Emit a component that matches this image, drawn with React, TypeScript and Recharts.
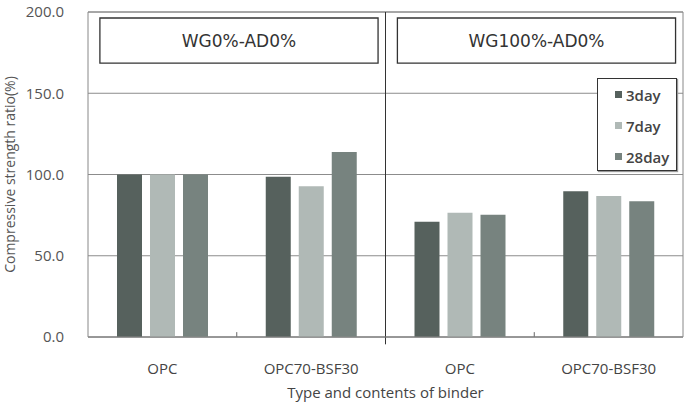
import React from 'react'
import {
  BarChart,
  Bar,
  XAxis,
  YAxis,
  CartesianGrid,
  Legend,
  ReferenceArea,
  ReferenceLine,
} from 'recharts'

// binder types, two panels of two each
const binders = ['OPC', 'OPC70-BSF30', 'OPC', 'OPC70-BSF30']
const panelTitles = ['WG0%-AD0%', 'WG100%-AD0%']

// compressive strength ratio (%) per curing age
const day3 = [100.0, 98.6, 70.9, 89.7]
const day7 = [100.0, 92.8, 76.4, 86.8]
const day28 = [100.0, 113.8, 75.3, 83.5]

const yTicks = [0, 50, 100, 150, 200]

const series = [
  { key: 'd3', name: '3day', values: day3, color: '#56615d' },
  { key: 'd7', name: '7day', values: day7, color: '#b0b9b6' },
  { key: 'd28', name: '28day', values: day28, color: '#77837f' },
]

// slot = category centre on a 0..4 helper axis used for frame / dividers
const data = binders.map((b, i) => ({
  binder: b,
  slot: i + 0.5,
  d3: day3[i],
  d7: day7[i],
  d28: day28[i],
}))

const font = '"Open Sans", "Noto Sans", sans-serif'
const titleFont = '"DejaVu Sans", sans-serif'

function LegendBox() {
  return (
    <div
      style={{
        width: 80,
        height: 93,
        boxSizing: 'border-box',
        border: '1px solid #333',
        boxShadow: '1px 1px 1px #999',
        background: '#fff',
        fontFamily: font,
        fontSize: 15,
        fontWeight: 600,
        color: '#444',
      }}
    >
      {series.map((s) => (
        <div
          key={s.key}
          style={{ display: 'flex', alignItems: 'center', height: 31, paddingLeft: 17 }}
        >
          <span
            style={{ width: 7, height: 7, background: s.color, marginRight: 4, display: 'inline-block' }}
          />
          <span>{s.name}</span>
        </div>
      ))}
    </div>
  )
}

export default function App() {
  return (
    <div style={{ position: 'fixed', left: 0, top: 0, width: 693, height: 402, background: '#fff' }}>
      <BarChart
        width={693}
        height={402}
        data={data}
        margin={{ top: 12, right: 10, bottom: 15, left: 0 }}
        barSize={25}
        barGap={8}
      >
        <CartesianGrid vertical={false} stroke="#8c8c8c" />
        <XAxis
          dataKey="binder"
          height={50}
          axisLine={{ stroke: '#888' }}
          tickLine={false}
          tickSize={0}
          tickMargin={26}
          tick={{ fill: '#444', fontSize: 15, fontFamily: font }}
          interval={0}
          label={{
            value: 'Type and contents of binder',
            position: 'bottom',
            offset: 0,
            fill: '#444',
            fontSize: 15,
            fontFamily: font,
          }}
        />
        <XAxis
          xAxisId="panel"
          dataKey="slot"
          type="number"
          domain={[0, 4]}
          allowDataOverflow
          hide
        />
        <YAxis
          width={88}
          domain={[0, 200]}
          ticks={yTicks}
          axisLine={false}
          tickLine={false}
          tickSize={0}
          tickMargin={24}
          tickFormatter={(v: number) => v.toFixed(1)}
          tick={{ fill: '#555', fontSize: 15, fontFamily: font }}
          label={{
            value: 'Compressive strength ratio(%)',
            angle: -90,
            position: 'insideLeft',
            offset: 10,
            fill: '#555',
            fontSize: 14,
            fontFamily: font,
            style: { textAnchor: 'middle' },
          }}
        />
        {/* plot frame */}
        <ReferenceArea xAxisId="panel" x1={0} x2={4} y1={0} y2={200} fill="none" stroke="#888" ifOverflow="visible" />
        {/* panel divider and category ticks */}
        <ReferenceLine
          xAxisId="panel"
          segment={[{ x: 2, y: -4.5 }, { x: 2, y: 200 }]}
          stroke="#333"
          ifOverflow="visible"
        />
        <ReferenceLine xAxisId="panel" segment={[{ x: 1, y: 0 }, { x: 1, y: 3 }]} stroke="#666" />
        <ReferenceLine xAxisId="panel" segment={[{ x: 3, y: 0 }, { x: 3, y: 3 }]} stroke="#666" />
        {/* panel titles */}
        {panelTitles.map((t, i) => (
          <ReferenceArea
            key={t}
            xAxisId="panel"
            x1={i * 2 + 0.08}
            x2={i * 2 + 1.95}
            y1={168.6}
            y2={196.3}
            fill="#fff"
            fillOpacity={1}
            stroke="#333"
            strokeWidth={1.3}
            ifOverflow="visible"
            label={{ value: t, position: 'center', fill: '#333', fontSize: 17, fontFamily: titleFont }}
          />
        ))}
        {series.map((s) => (
          <Bar key={s.key} dataKey={s.key} name={s.name} fill={s.color} isAnimationActive={false} />
        ))}
        <Legend
          layout="horizontal"
          verticalAlign="middle"
          align="center"
          content={() => <LegendBox />}
          wrapperStyle={{ left: 597, top: 78, width: 80, height: 93 }}
        />
      </BarChart>
    </div>
  )
}
